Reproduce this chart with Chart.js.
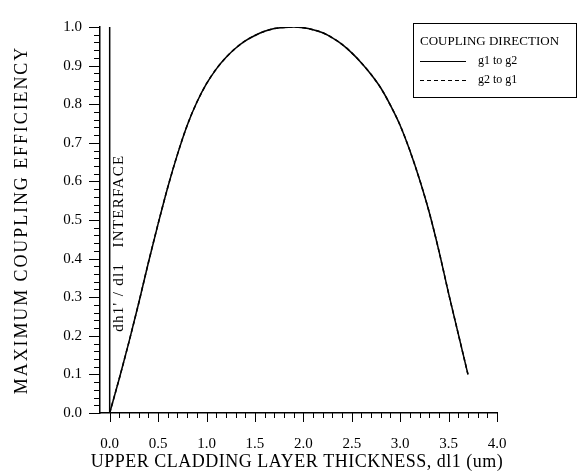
<!DOCTYPE html>
<html>
<head>
<meta charset="utf-8">
<script src="https://cdn.jsdelivr.net/npm/chart.js@4.4.1/dist/chart.umd.min.js"></script>
<style>
  html, body { margin: 0; padding: 0; background: #fff; }
  #wrap { width: 581px; height: 473px; }
</style>
</head>
<body>
<div id="wrap"><canvas id="couplingChart"></canvas></div>
<script>
// upper cladding thickness dl1 (um) vs max coupling efficiency
const thickness = [0, 0.1, 0.2, 0.3, 0.4, 0.5, 0.6, 0.7, 0.8, 0.9, 1.0, 1.1, 1.2, 1.3, 1.4, 1.5, 1.6, 1.7, 1.8, 1.9, 2.0, 2.1, 2.2, 2.3, 2.4, 2.5, 2.6, 2.7, 2.8, 2.9, 3.0, 3.1, 3.2, 3.3, 3.4, 3.5, 3.6, 3.7];
const efficiency = [0, 0.09, 0.185, 0.285, 0.39, 0.49, 0.585, 0.67, 0.745, 0.805, 0.853, 0.891, 0.921, 0.945, 0.964, 0.978, 0.989, 0.996, 0.999, 1.0, 0.998, 0.993, 0.985, 0.972, 0.955, 0.933, 0.907, 0.877, 0.842, 0.797, 0.745, 0.68, 0.605, 0.52, 0.42, 0.31, 0.205, 0.1];

// dh1'/dl1 interface marker
const interfaceX = [0, 0];
const interfaceY = [0, 1];

const xTicks = [0, 0.5, 1.0, 1.5, 2.0, 2.5, 3.0, 3.5, 4.0];
const yTicks = [0, 0.1, 0.2, 0.3, 0.4, 0.5, 0.6, 0.7, 0.8, 0.9, 1.0];
const xMinorStep = 0.1;
const yMinorStep = 0.02;

const serif = "'Liberation Serif', 'Times New Roman', serif";
Chart.defaults.font.family = serif;
Chart.defaults.color = "#000";

function toPoints(xs, ys) {
  return xs.map((v, i) => ({ x: v, y: ys[i] }));
}

// minor + major tick marks, outside the axes
const tickMarks = {
  id: "tickMarks",
  afterDraw(chart) {
    const { ctx, scales } = chart;
    const x = scales.x, y = scales.y;
    ctx.save();
    ctx.strokeStyle = "#000";
    ctx.lineWidth = 1;
    ctx.beginPath();
    const ny = Math.round((y.max - y.min) / yMinorStep);
    for (let i = 0; i <= ny; i++) {
      const py = Math.round(y.getPixelForValue(y.min + i * yMinorStep)) + 0.5;
      const len = i % 5 === 0 ? 11 : 6;
      ctx.moveTo(x.left - len, py);
      ctx.lineTo(x.left, py);
    }
    const nx = Math.round(x.max / xMinorStep);
    for (let i = 0; i <= nx; i++) {
      const px = Math.round(x.getPixelForValue(i * xMinorStep)) + 0.5;
      const len = i % 5 === 0 ? 9 : 5;
      ctx.moveTo(px, y.bottom);
      ctx.lineTo(px, y.bottom + len);
    }
    ctx.stroke();
    ctx.restore();
  },
};

// text helper: the scanned figure has wide letter spacing
function spacedText(ctx, text, size, spacing, x, y, angle) {
  ctx.save();
  ctx.translate(x, y);
  if (angle) ctx.rotate(angle);
  ctx.font = size + "px " + serif;
  ctx.fillStyle = "#000";
  ctx.textAlign = "center";
  ctx.textBaseline = "middle";
  ctx.letterSpacing = spacing + "px";
  ctx.fillText(text, 0, 0);
  ctx.restore();
}

// axis titles + the rotated interface label
const labels = {
  id: "labels",
  afterDraw(chart) {
    const { ctx, scales, chartArea } = chart;
    spacedText(ctx, "MAXIMUM COUPLING EFFICIENCY", 18, 1.9, 22, (chartArea.top + chartArea.bottom) / 2, -Math.PI / 2);
    spacedText(ctx, "UPPER CLADDING LAYER THICKNESS, dl1 (um)", 18, 0.5, 297, 462, 0);
    const px = scales.x.getPixelForValue(interfaceX[0]) + 9;
    const py = scales.y.getPixelForValue(0.44);
    spacedText(ctx, "dh1' / dl1   INTERFACE", 15, 1.3, px, py, -Math.PI / 2);
  },
};

// boxed legend with a title, as in the original figure
const boxLegend = {
  id: "boxLegend",
  afterDraw(chart) {
    const { ctx } = chart;
    const left = 413, top = 23, w = 163, h = 74;
    ctx.save();
    ctx.strokeStyle = "#000";
    ctx.lineWidth = 1;
    ctx.strokeRect(left + 0.5, top + 0.5, w, h);
    ctx.fillStyle = "#000";
    ctx.textBaseline = "middle";
    ctx.font = "13px " + serif;
    ctx.fillText("COUPLING DIRECTION", left + 7, top + 19);
    const items = chart.data.datasets.filter((d) => d.inLegend);
    items.forEach((d, i) => {
      const ly = top + 38 + i * 19;
      ctx.beginPath();
      ctx.setLineDash(d.borderDash || []);
      ctx.lineWidth = 1.2;
      ctx.moveTo(left + 7, ly + 0.5);
      ctx.lineTo(left + 53, ly + 0.5);
      ctx.stroke();
      ctx.setLineDash([]);
      ctx.font = "12px " + serif;
      ctx.fillText(d.label, left + 65, ly);
    });
    ctx.restore();
  },
};

const ctx = document.getElementById("couplingChart").getContext("2d");
new Chart(ctx, {
  type: "scatter",
  data: {
    datasets: [
      {
        label: "g1 to g2",
        inLegend: true,
        data: toPoints(thickness, efficiency),
        showLine: true,
        borderColor: "#000",
        borderWidth: 1.5,
        pointRadius: 0,
        cubicInterpolationMode: "monotone",
      },
      {
        label: "g2 to g1",
        inLegend: true,
        data: toPoints(thickness, efficiency),
        showLine: true,
        borderColor: "#000",
        borderWidth: 1.5,
        borderDash: [4, 3],
        pointRadius: 0,
        cubicInterpolationMode: "monotone",
      },
      {
        label: "interface",
        data: toPoints(interfaceX, interfaceY),
        showLine: true,
        borderColor: "#000",
        borderWidth: 1.5,
        pointRadius: 0,
      },
    ],
  },
  options: {
    responsive: true,
    maintainAspectRatio: false,
    animation: false,
    layout: { padding: { top: 20, right: 84, left: 0, bottom: 0 } },
    plugins: {
      legend: { display: false },
      tooltip: { enabled: false },
    },
    scales: {
      x: {
        type: "linear",
        min: -0.1,
        max: 4.0,
        afterFit: (s) => { s.height = 60; },
        afterBuildTicks: (s) => { s.ticks = xTicks.map((v) => ({ value: v })); },
        grid: { display: false, drawTicks: false },
        border: { display: true, color: "#000", width: 1.5 },
        ticks: {
          padding: 22,
          font: { size: 15 },
          maxRotation: 0,
          callback: (v) => v.toFixed(1),
        },
      },
      y: {
        type: "linear",
        min: 0,
        max: 1.0,
        afterFit: (s) => { s.width = 100; },
        afterBuildTicks: (s) => { s.ticks = yTicks.map((v) => ({ value: v })); },
        grid: { display: false, drawTicks: false },
        border: { display: true, color: "#000", width: 1.5 },
        ticks: {
          padding: 18,
          font: { size: 15 },
          callback: (v) => v.toFixed(1),
        },
      },
    },
  },
  plugins: [tickMarks, labels, boxLegend],
});
</script>
</body>
</html>
